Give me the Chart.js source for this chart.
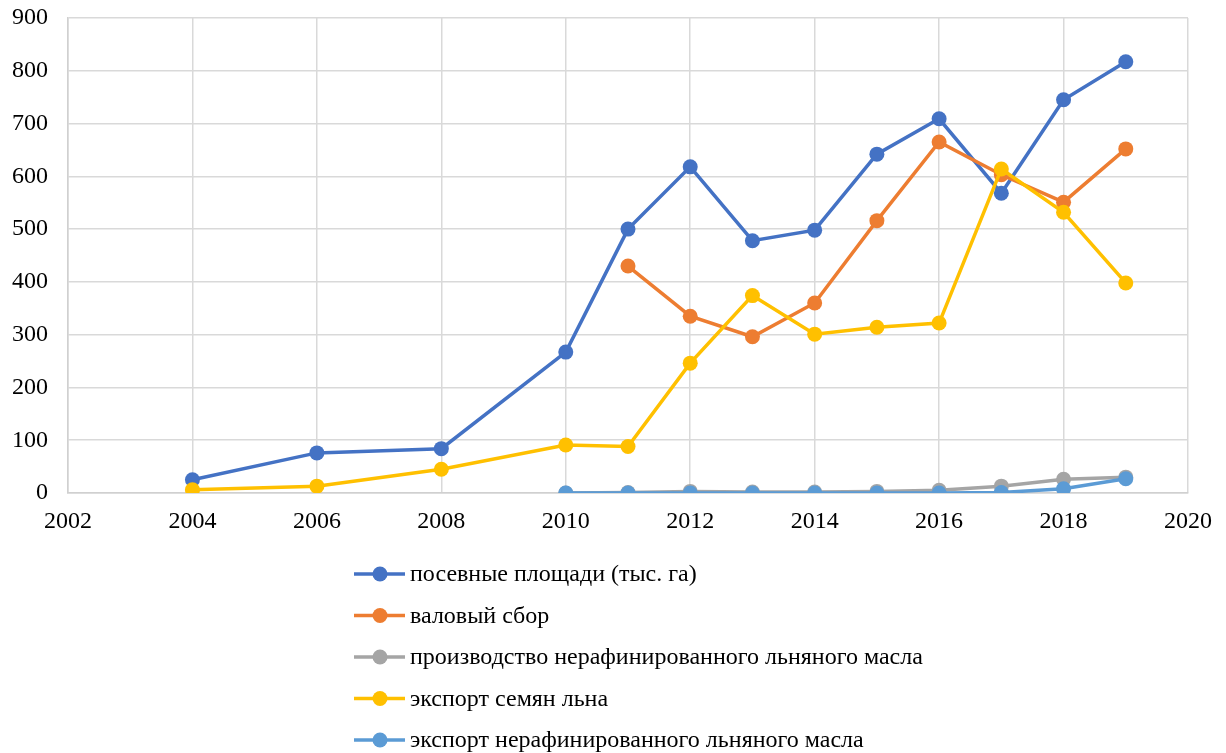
<!DOCTYPE html>
<html>
<head>
<meta charset="utf-8">
<script src="https://cdn.jsdelivr.net/npm/chart.js@4/dist/chart.umd.min.js"></script>
<style>
  html, body { margin: 0; padding: 0; background: #fff; }
  #wrap { width: 1226px; height: 753px; }
</style>
</head>
<body>
<div id="wrap"><canvas id="c" width="1226" height="753"></canvas></div>
<script>
// Years observed
const years = [2004, 2006, 2008, 2010, 2011, 2012, 2013, 2014, 2015, 2016, 2017, 2018, 2019];

// Series values (null = no observation)
const sownArea      = [25, 76, 84, 267, 500, 618, 478, 498, 642, 709, 568, 745, 817];
const grossHarvest  = [null, null, null, null, 430, 335, 296, 360, 516, 665, 603, 551, 652];
const oilProduction = [null, null, null, 0, 1, 3, 2, 2, 3, 5, 13, 26, 30];
const seedExport    = [6, 13, 45, 91, 88, 246, 374, 301, 314, 322, 614, 532, 398];
const oilExport     = [null, null, null, 0, 0, 0, 0, 0, 0, 0, 1, 8, 27];

const seriesNames = [
  'посевные площади (тыс. га)',
  'валовый сбор',
  'производство нерафинированного льняного масла',
  'экспорт семян льна',
  'экспорт нерафинированного льняного масла'
];
const seriesValues = [sownArea, grossHarvest, oilProduction, seedExport, oilExport];
const seriesColors = ['#4472C4', '#ED7D31', '#A5A5A5', '#FFC000', '#5B9BD5'];

// Axis ranges
const xMin = 2002, xMax = 2020, xStep = 2;
const yMin = 0, yMax = 900, yStep = 100;

const FONT = '"Liberation Serif", "Times New Roman", serif';

function toPoints(vals) {
  return years.map((yr, i) => ({ x: yr, y: vals[i] })).filter(p => p.y !== null);
}

const datasets = seriesNames.map((name, i) => ({
  label: name,
  data: toPoints(seriesValues[i]),
  borderColor: seriesColors[i],
  backgroundColor: seriesColors[i],
  pointBackgroundColor: seriesColors[i],
  pointBorderColor: seriesColors[i],
  pointRadius: 7.5,
  pointHoverRadius: 7.5,
  pointBorderWidth: 0,
  borderWidth: 3.5,
  tension: 0,
  order: seriesNames.length - i
}));

// Vertical legend below the plot
const stackedLegend = {
  id: 'stackedLegend',
  afterDraw(chart) {
    const ctx = chart.ctx;
    const area = chart.chartArea;
    const lineX0 = 354, lineX1 = 405, markX = 380, textX = 410;
    const firstRow = area.bottom + 81;
    const rowGap = 41.5;
    ctx.save();
    ctx.font = '24px ' + FONT;
    ctx.textBaseline = 'middle';
    ctx.textAlign = 'left';
    chart.data.datasets.forEach((ds, i) => {
      const y = firstRow + i * rowGap;
      ctx.strokeStyle = ds.borderColor;
      ctx.lineWidth = 3.5;
      ctx.beginPath();
      ctx.moveTo(lineX0, y);
      ctx.lineTo(lineX1, y);
      ctx.stroke();
      ctx.fillStyle = ds.borderColor;
      ctx.beginPath();
      ctx.arc(markX, y, 7.5, 0, Math.PI * 2);
      ctx.fill();
      ctx.fillStyle = '#000';
      ctx.fillText(ds.label, textX, y + 1);
    });
    ctx.restore();
  }
};

new Chart(document.getElementById('c'), {
  type: 'line',
  data: { datasets },
  plugins: [stackedLegend],
  options: {
    responsive: false,
    animation: false,
    layout: { padding: { left: 0, right: 38, top: 18, bottom: 220 } },
    plugins: {
      legend: { display: false },
      tooltip: { enabled: false }
    },
    scales: {
      x: {
        type: 'linear',
        min: xMin, max: xMax,
        afterFit(scale) { scale.height = 40; },
        ticks: {
          stepSize: xStep,
          padding: 14,
          color: '#000',
          font: { family: FONT, size: 24 },
          callback: v => String(v)
        },
        grid: { color: '#d9d9d9', lineWidth: 1.5, drawTicks: false },
        border: { color: '#d0d0d0', width: 1.5 }
      },
      y: {
        min: yMin, max: yMax,
        afterFit(scale) {
          scale.width = 68;
          scale.paddingTop = 0;
          scale.paddingBottom = 0;
        },
        ticks: {
          stepSize: yStep,
          padding: 20,
          color: '#000',
          font: { family: FONT, size: 24 }
        },
        grid: { color: '#d9d9d9', lineWidth: 1.5, drawTicks: false },
        border: { color: '#d0d0d0', width: 1.5 }
      }
    }
  }
});
</script>
</body>
</html>
